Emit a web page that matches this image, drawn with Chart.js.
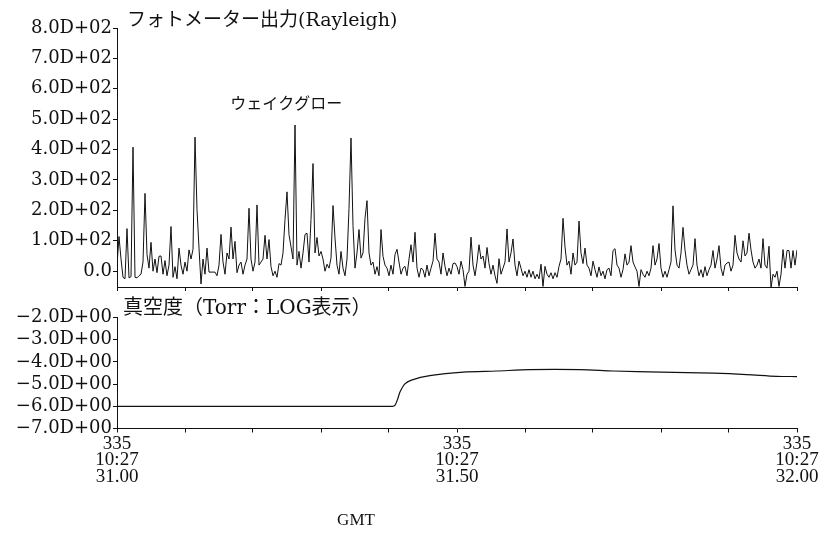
<!DOCTYPE html>
<html>
<head>
<meta charset="utf-8">
<script src="https://cdn.jsdelivr.net/npm/chart.js@4.4.1/dist/chart.umd.min.js"></script>
<style>
  html, body { margin: 0; padding: 0; background: #ffffff; }
  #wrap { position: relative; width: 827px; height: 534px; overflow: hidden; background: #fff; }
  #c1 { position: absolute; left: 0; top: 0; }
  #c2 { position: absolute; left: 0; top: 290px; }
  #gmt { position: absolute; left: 306px; width: 100px; top: 510px; text-align: center;
         font: 17px "Liberation Serif", "DejaVu Serif", serif; color: #111; line-height: 20px; }
</style>
</head>
<body>
<div id="wrap">
  <canvas id="c1" width="827" height="300"></canvas>
  <canvas id="c2" width="827" height="244"></canvas>
  <div id="gmt">GMT</div>
</div>
<script>
// ---------------- data ----------------
// time axis (seconds of 10:27, day 335)
const timeStart = 31.00;
const timeEnd = 32.00;
const xTickValues = [31.0, 31.1, 31.2, 31.3, 31.4, 31.5, 31.6, 31.7, 31.8, 31.9, 32.0];
const xLabelTimes = [31.00, 31.50, 32.00];
const xLabelLines = [
  ['335', '10:27', '31.00'],
  ['335', '10:27', '31.50'],
  ['335', '10:27', '32.00']
];

// photometer output (Rayleigh), evenly sampled from 31.00 to 32.00
const photoValues = [
  20,114,40,-20,-25,140,-22,-18,408,-20,
  -22,-15,-10,30,256,55,10,95,0,40,
  -5,49,50,-10,35,-15,20,147,-20,15,
  -25,76,20,-10,30,0,70,40,72,441,
  203,76,-42,40,-10,76,-3,-3,-3,-3,
  -15,20,121,30,-10,60,40,145,40,98,
  -5,20,30,-10,20,40,207,40,0,30,
  218,20,30,40,118,40,104,15,-15,0,
  -20,25,20,60,170,261,120,80,40,481,
  20,65,10,60,121,125,30,170,354,60,
  111,50,65,40,0,23,10,43,216,109,
  20,-10,65,10,-15,40,207,438,150,10,
  60,137,43,60,174,232,60,20,30,-10,
  15,-15,137,49,20,10,-15,20,-10,55,
  72,30,-10,10,16,-15,40,87,30,128,
  10,-20,10,5,-20,20,-15,10,33,125,
  40,30,-10,60,16,-15,10,-10,25,27,
  15,-10,33,5,-50,-10,0,112,20,-15,
  30,87,40,50,10,78,25,-10,20,-15,
  -40,41,-10,10,30,139,30,60,106,20,
  -15,33,10,-15,0,-20,5,-20,0,-25,
  -10,-25,23,-50,16,-10,-20,-5,-25,-5,
  -20,16,40,174,80,20,33,-10,60,20,
  30,165,60,25,76,20,10,-15,33,5,
  -20,14,-15,0,-25,5,10,-15,68,74,
  20,10,-20,5,57,20,30,84,30,14,
  0,-50,5,-10,-20,0,-15,10,84,20,
  40,91,10,-20,0,-20,5,30,215,70,
  20,10,60,144,70,20,-10,5,20,107,
  20,-15,5,-20,15,-15,5,20,68,10,
  40,84,10,-15,20,27,30,0,20,118,
  60,40,30,100,50,60,125,70,30,10,
  20,40,10,107,20,10,82,-55,-10,-20,
  0,-50,-10,71,10,68,68,10,68,20,70
];
const photoTicks = [0, 100, 200, 300, 400, 500, 600, 700, 800];

// vacuum (Torr, log10)
const vacTimes  = [31.000, 31.405, 31.409, 31.413, 31.416, 31.423, 31.433, 31.460, 31.509, 31.558, 31.607, 31.681, 31.730, 31.800, 31.877, 31.926, 31.970, 32.000];
const vacValues = [-6.00,  -6.00,  -5.95,  -5.65,  -5.37,  -5.00,  -4.82,  -4.62,  -4.46,  -4.41,  -4.35,  -4.35,  -4.41,  -4.46,  -4.51,  -4.57,  -4.65,  -4.66];
const vacTicks = [-7, -6, -5, -4, -3, -2];

// ---------------- texts ----------------
const topTitle = 'フォトメーター出力(Rayleigh)';
const wakeLabel = 'ウェイクグロー';
const bottomTitle = '真空度（Torr：LOG表示）';

// ---------------- helpers ----------------
const INK = '#111111';
const tickFont = { family: '"DejaVu Serif", "Liberation Serif", serif', size: 18 };
const xFont = { family: '"Liberation Serif", "DejaVu Serif", serif', size: 19, lineHeight: '16.5px' };
const cjkFont = '"DejaVu Serif", "Noto Sans CJK JP", sans-serif';

const photoData = photoValues.map((v, i) => ({
  x: timeStart + i * (timeEnd - timeStart) / (photoValues.length - 1),
  y: v
}));
const vacData = vacTimes.map((t, i) => ({ x: t, y: vacValues[i] }));

function fixWidth(w) { return function (scale) { scale.width = w; }; }

const textPlugin = {
  id: 'panelTexts',
  afterDraw(chart, args, opts) {
    const ctx = chart.ctx;
    ctx.save();
    ctx.fillStyle = INK;
    ctx.textBaseline = 'middle';
    (opts.items || []).forEach(it => {
      ctx.font = it.font;
      ctx.textAlign = it.align || 'left';
      const x = (it.dx !== undefined) ? chart.chartArea.left + it.dx : chart.scales.x.getPixelForValue(it.x);
      const y = (it.dy !== undefined) ? chart.chartArea.top + it.dy : chart.scales.y.getPixelForValue(it.y);
      ctx.fillText(it.text, x, y);
    });
    ctx.restore();
  }
};

function xScale(showLabels) {
  return {
    type: 'linear',
    min: timeStart,
    max: timeEnd,
    afterBuildTicks(scale) { scale.ticks = xTickValues.map(v => ({ value: v })); },
    grid: { display: true, drawOnChartArea: false, drawTicks: true, tickLength: 4, color: INK, lineWidth: 1 },
    border: { display: true, color: INK, width: 1 },
    ticks: {
      display: showLabels,
      autoSkip: false,
      maxRotation: 0,
      minRotation: 0,
      padding: 3,
      color: INK,
      font: xFont,
      callback(value) {
        const k = xLabelTimes.findIndex(t => Math.abs(t - value) < 1e-6);
        return k >= 0 ? xLabelLines[k] : '';
      }
    }
  };
}

function yGrid() {
  return { display: true, drawOnChartArea: false, drawTicks: true, tickLength: 4, color: INK, lineWidth: 1 };
}

// ---------------- top chart ----------------
new Chart(document.getElementById('c1'), {
  type: 'line',
  data: {
    datasets: [{
      data: photoData,
      borderColor: INK,
      borderWidth: 1,
      pointRadius: 0,
      tension: 0,
      fill: false
    }]
  },
  options: {
    responsive: false,
    animation: false,
    events: [],
    layout: { padding: { left: 0, right: 30, top: 28, bottom: 9 } },
    plugins: {
      legend: { display: false },
      tooltip: { enabled: false },
      panelTexts: {
        items: [
          { text: topTitle, dx: 10, dy: -7, font: '19px ' + cjkFont },
          { text: wakeLabel, x: 31.249, y: 553, align: 'center', font: '16px "Noto Sans CJK JP", sans-serif' }
        ]
      }
    },
    scales: {
      x: xScale(false),
      y: {
        type: 'linear',
        min: -52,
        max: 800,
        afterFit: fixWidth(117),
        afterBuildTicks(scale) { scale.ticks = photoTicks.map(v => ({ value: v })); },
        grid: yGrid(),
        border: { display: true, color: INK, width: 1 },
        ticks: {
          autoSkip: false,
          padding: 1,
          color: INK,
          font: tickFont,
          callback(v) { return v === 0 ? '0.0' : (v / 100).toFixed(1) + 'D+02'; }
        }
      }
    }
  },
  plugins: [textPlugin]
});

// ---------------- bottom chart ----------------
new Chart(document.getElementById('c2'), {
  type: 'line',
  data: {
    datasets: [{
      data: vacData,
      borderColor: INK,
      borderWidth: 1.2,
      pointRadius: 0,
      tension: 0.3,
      fill: false
    }]
  },
  options: {
    responsive: false,
    animation: false,
    events: [],
    layout: { padding: { left: 0, right: 30, top: 27.5, bottom: 46 } },
    plugins: {
      legend: { display: false },
      tooltip: { enabled: false },
      panelTexts: {
        items: [
          { text: bottomTitle, dx: 6, dy: -9, font: '20px ' + cjkFont }
        ]
      }
    },
    scales: {
      x: xScale(true),
      y: {
        type: 'linear',
        min: -7,
        max: -2,
        afterFit: fixWidth(117),
        afterBuildTicks(scale) { scale.ticks = vacTicks.map(v => ({ value: v })); },
        grid: yGrid(),
        border: { display: true, color: INK, width: 1 },
        ticks: {
          autoSkip: false,
          padding: 1,
          color: INK,
          font: tickFont,
          callback(v) { return '\u2212' + Math.abs(v).toFixed(1) + 'D+00'; }
        }
      }
    }
  },
  plugins: [textPlugin]
});
</script>
</body>
</html>
